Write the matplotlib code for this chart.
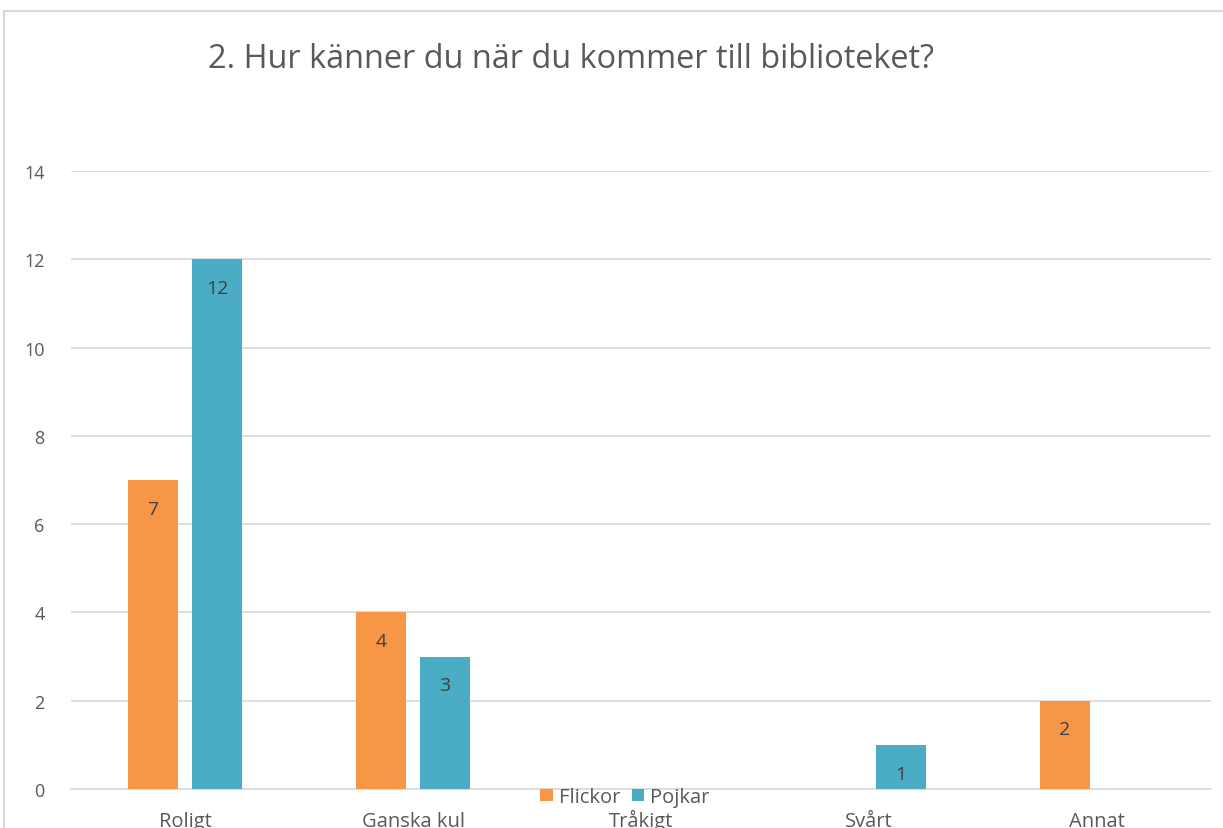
import matplotlib.pyplot as plt
import numpy as np
from matplotlib.patches import Rectangle

categories = ['Roligt', 'Ganska kul', 'Tråkigt', 'Svårt', 'Annat']
flickor = [7, 4, 0, 0, 2]
pojkar = [12, 3, 0, 1, 0]
yticks = [0, 2, 4, 6, 8, 10, 12, 14]

plt.rcParams['font.family'] = ['Open Sans', 'DejaVu Sans']

W, H = 1223, 829
fig = plt.figure(figsize=(W / 100, H / 100), dpi=100)
ax = fig.add_axes([71 / W, 1 - 790 / H, 1140 / W, (790 - 172) / H])

# chart border
fig.patches.append(Rectangle((4 / W, -0.1), 1.2, 1 - 12 / H + 0.1, transform=fig.transFigure,
                             fill=False, edgecolor='#D9D9D9', linewidth=1.5))

x = np.arange(len(categories))
bw = 0.22
off = 0.14
b1 = ax.bar(x - off, flickor, bw, color='#F79646', label='Flickor', zorder=3)
b2 = ax.bar(x + off, pojkar, bw, color='#4BACC6', label='Pojkar', zorder=3)

for bars, vals in ((b1, flickor), (b2, pojkar)):
    for rect, v in zip(bars, vals):
        if v > 0:
            ax.text(rect.get_x() + rect.get_width() / 2, v - 0.65, str(v),
                    ha='center', va='center', fontsize=14, color='#404040', zorder=4)

ax.set_xlim(-0.5, len(categories) - 0.5)
ax.set_ylim(0, 14)
ax.set_yticks(yticks)
ax.set_xticks(x)
ax.set_xticklabels(categories)
ax.tick_params(axis='both', length=0, labelcolor='#595959')
ax.tick_params(axis='y', pad=19, labelsize=13)
ax.tick_params(axis='x', pad=27, labelsize=14.5)
for lab in ax.get_xticklabels():
    lab.set_verticalalignment('baseline')
ax.grid(axis='y', color='#D9D9D9', linewidth=1.2, zorder=0)
for s in ('top', 'right', 'left'):
    ax.spines[s].set_visible(False)
ax.spines['bottom'].set_color('#D9D9D9')
ax.spines['bottom'].set_linewidth(1.2)

fig.text(208 / W, 1 - 60 / H, '2. Hur känner du när du kommer till biblioteket?',
         ha='left', va='center', fontsize=23.4, color='#595959')

fig.legend(loc='center', bbox_to_anchor=(625 / W, 1 - 798 / H), ncol=2, frameon=False,
           fontsize=14.5, labelcolor='#595959', handlelength=0.6, handleheight=0.6,
           handletextpad=0.3, columnspacing=0.6, borderpad=0)

fig.savefig('out.png', dpi=100)
